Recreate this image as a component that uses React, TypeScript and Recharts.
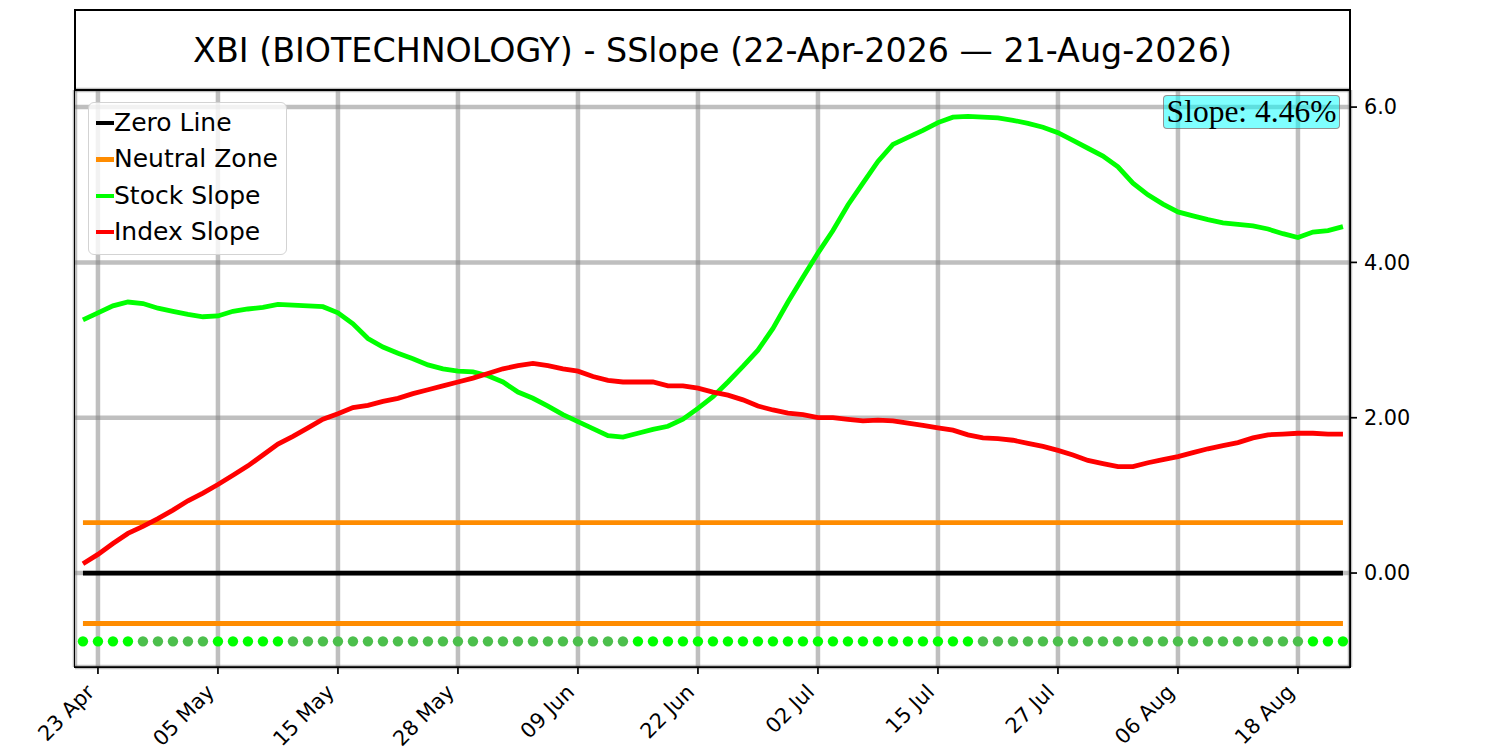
import { CartesianGrid, Line, LineChart, XAxis, YAxis } from "recharts";

// trading days, 22 Apr 2026 -> 21 Aug 2026
const dates = [
  "22 Apr", "23 Apr", "24 Apr", "27 Apr", "28 Apr", "29 Apr", "30 Apr",
  "01 May", "04 May", "05 May", "06 May", "07 May", "08 May", "11 May", "12 May", "13 May", "14 May",
  "15 May", "18 May", "19 May", "20 May", "21 May", "22 May", "26 May", "27 May", "28 May", "29 May",
  "01 Jun", "02 Jun", "03 Jun", "04 Jun", "05 Jun", "08 Jun", "09 Jun", "10 Jun", "11 Jun", "12 Jun",
  "15 Jun", "16 Jun", "17 Jun", "18 Jun", "22 Jun", "23 Jun", "24 Jun", "25 Jun", "26 Jun", "29 Jun", "30 Jun",
  "01 Jul", "02 Jul", "06 Jul", "07 Jul", "08 Jul", "09 Jul", "10 Jul", "13 Jul", "14 Jul", "15 Jul",
  "16 Jul", "17 Jul", "20 Jul", "21 Jul", "22 Jul", "23 Jul", "24 Jul", "27 Jul", "28 Jul", "29 Jul",
  "30 Jul", "31 Jul", "03 Aug", "04 Aug", "05 Aug", "06 Aug", "07 Aug", "10 Aug", "11 Aug", "12 Aug",
  "13 Aug", "14 Aug", "17 Aug", "18 Aug", "19 Aug", "20 Aug", "21 Aug",
];

const stockSlope = [
  3.26, 3.35, 3.44, 3.49, 3.47, 3.41, 3.37, 3.33, 3.30, 3.31,
  3.37, 3.40, 3.42, 3.46, 3.45, 3.44, 3.43, 3.35, 3.21, 3.02,
  2.91, 2.83, 2.76, 2.68, 2.63, 2.60, 2.59, 2.54, 2.46, 2.33,
  2.25, 2.15, 2.04, 1.95, 1.86, 1.77, 1.75, 1.80, 1.85, 1.89,
  1.98, 2.12, 2.27, 2.46, 2.66, 2.87, 3.15, 3.49, 3.81, 4.12,
  4.41, 4.74, 5.02, 5.30, 5.52, 5.61, 5.70, 5.80, 5.87, 5.88,
  5.87, 5.86, 5.83, 5.79, 5.74, 5.67, 5.57, 5.47, 5.37, 5.23,
  5.02, 4.87, 4.75, 4.65, 4.60, 4.55, 4.51, 4.49, 4.47, 4.43,
  4.37, 4.32, 4.39, 4.41, 4.46,
];

const indexSlope = [
  0.12, 0.24, 0.38, 0.51, 0.60, 0.70, 0.81, 0.93, 1.03, 1.14,
  1.26, 1.38, 1.52, 1.66, 1.76, 1.87, 1.98, 2.05, 2.13, 2.16,
  2.21, 2.25, 2.31, 2.36, 2.41, 2.46, 2.51, 2.57, 2.63, 2.67,
  2.70, 2.67, 2.63, 2.60, 2.53, 2.48, 2.46, 2.46, 2.46, 2.41,
  2.41, 2.38, 2.33, 2.29, 2.23, 2.15, 2.10, 2.06, 2.04, 2.00,
  2.00, 1.98, 1.96, 1.97, 1.96, 1.93, 1.90, 1.87, 1.84, 1.78,
  1.74, 1.73, 1.71, 1.67, 1.63, 1.58, 1.52, 1.45, 1.41, 1.37,
  1.37, 1.42, 1.46, 1.50, 1.55, 1.60, 1.64, 1.68, 1.74, 1.78,
  1.79, 1.80, 1.80, 1.79, 1.79,
];

const neutralZone = 0.65;
const trendDotLevel = -0.88;

const xTickLabels = ["23 Apr", "05 May", "15 May", "28 May", "09 Jun", "22 Jun", "02 Jul", "15 Jul", "27 Jul", "06 Aug", "18 Aug"];
const yTicks = [0, 2, 4, 6];
const yTickLabels = ["0.00", "2.00", "4.00", "6.0"];

const legendItems = [
  { name: "Zero Line", color: "#000000" },
  { name: "Neutral Zone", color: "#ff8c00" },
  { name: "Stock Slope", color: "#00ff00" },
  { name: "Index Slope", color: "#ff0000" },
];

const FONT = "'DejaVu Sans', Verdana, sans-serif";
const LW = 4.8;

const data = dates.map((d, i) => ({
  i,
  date: d,
  stock: stockSlope[i],
  index: indexSlope[i],
  zero: 0,
  nzUp: neutralZone,
  nzDown: -neutralZone,
  trend: trendDotLevel,
}));

const xTicks = xTickLabels.map(l => dates.indexOf(l));

function rising(i: number) {
  if (i === 0) return stockSlope[1] >= stockSlope[0];
  return stockSlope[i] > stockSlope[i - 1];
}

function DateTick({ x, y, payload }: any) {
  const tx = x - 7.4;
  const ty = y + 14.4;
  return (
    <text
      x={tx}
      y={ty}
      transform={`rotate(-45, ${tx}, ${ty})`}
      textAnchor="end"
      dominantBaseline="central"
      fontFamily={FONT}
      fontSize={20.8}
      fill="#000"
    >
      {dates[payload.value]}
    </text>
  );
}

function TrendDot({ cx, cy, index }: any) {
  return <circle key={`d${index}`} cx={cx} cy={cy} r={5.2} fill={rising(index) ? "#00ff00" : "#4cbf4c"} />;
}

export default function App() {
  return (
    <div style={{ position: "absolute", left: 0, top: 0, width: 1500, height: 750, background: "#fff" }}>
      <LineChart width={1500} height={750} data={data} margin={{ top: 90, left: 75, right: 70, bottom: 3 }}>
        <CartesianGrid stroke="#808080" strokeOpacity={0.5} strokeWidth={4.5} />
        <XAxis
          dataKey="i"
          type="number"
          domain={[-0.53, 84.47]}
          ticks={xTicks}
          interval={0}
          height={80}
          tickSize={7}
          tickMargin={0}
          tick={<DateTick />}
          axisLine={{ stroke: "#000", strokeWidth: 1.7 }}
          tickLine={{ stroke: "#000", strokeWidth: 1.7 }}
          allowDataOverflow
        />
        <YAxis
          orientation="right"
          type="number"
          domain={[-1.21, 6.22]}
          ticks={yTicks}
          interval={0}
          width={80}
          tickSize={7}
          tickMargin={7}
          tickFormatter={v => yTickLabels[yTicks.indexOf(v)]}
          tick={{ fontFamily: FONT, fontSize: 20.8, fill: "#000" }}
          axisLine={{ stroke: "#000", strokeWidth: 1.7 }}
          tickLine={{ stroke: "#000", strokeWidth: 1.7 }}
          allowDataOverflow
        />
        <Line dataKey="zero" stroke="#000000" strokeWidth={LW} dot={false} activeDot={false} isAnimationActive={false} />
        <Line dataKey="nzUp" stroke="#ff8c00" strokeWidth={LW} dot={false} activeDot={false} isAnimationActive={false} />
        <Line dataKey="nzDown" stroke="#ff8c00" strokeWidth={LW} dot={false} activeDot={false} isAnimationActive={false} />
        <Line dataKey="stock" stroke="#00ff00" strokeWidth={LW} dot={false} activeDot={false} isAnimationActive={false} />
        <Line dataKey="index" stroke="#ff0000" strokeWidth={LW} dot={false} activeDot={false} isAnimationActive={false} />
        <Line dataKey="trend" stroke="none" strokeWidth={0} dot={<TrendDot />} activeDot={false} isAnimationActive={false} />
      </LineChart>

      {/* title box */}
      <div
        style={{
          position: "absolute", left: 74, top: 9, width: 1277, height: 82, boxSizing: "border-box",
          border: "2px solid #000", display: "flex", alignItems: "center", justifyContent: "center",
          fontFamily: FONT, fontSize: 33.3, color: "#000",
        }}
      >
        XBI (BIOTECHNOLOGY) - SSlope (22-Apr-2026 — 21-Aug-2026)
      </div>

      {/* plot frame */}
      <div
        style={{
          position: "absolute", left: 74, top: 89, width: 1277, height: 579, boxSizing: "border-box",
          border: "1.7px solid #000", pointerEvents: "none",
        }}
      />

      {/* legend */}
      <div
        style={{
          position: "absolute", left: 88, top: 102, width: 199, height: 153, boxSizing: "border-box",
          border: "1.5px solid #d3d3d3", borderRadius: 6, background: "rgba(255,255,255,0.8)",
        }}
      >
        {legendItems.map((item, k) => (
          <div
            key={item.name}
            style={{ position: "absolute", left: 0, top: 2 + k * 36.4, height: 36, display: "flex", alignItems: "center" }}
          >
            <div style={{ marginLeft: 7, width: 18, height: 4.5, background: item.color }} />
            <span style={{ fontFamily: FONT, fontSize: 25, lineHeight: "36px", whiteSpace: "nowrap" }}>{item.name}</span>
          </div>
        ))}
      </div>

      {/* latest slope label */}
      <div
        style={{
          position: "absolute", left: 1163, top: 95, width: 177, height: 34, boxSizing: "border-box",
          border: "1.5px solid rgba(165,42,42,0.5)", borderRadius: 4, background: "rgba(0,255,255,0.5)",
          display: "flex", alignItems: "center", justifyContent: "center",
          fontFamily: "'Liberation Serif', 'Times New Roman', serif", fontSize: 31.5, color: "#000", whiteSpace: "nowrap",
        }}
      >
        Slope: {stockSlope[stockSlope.length - 1].toFixed(2)}%
      </div>
    </div>
  );
}
